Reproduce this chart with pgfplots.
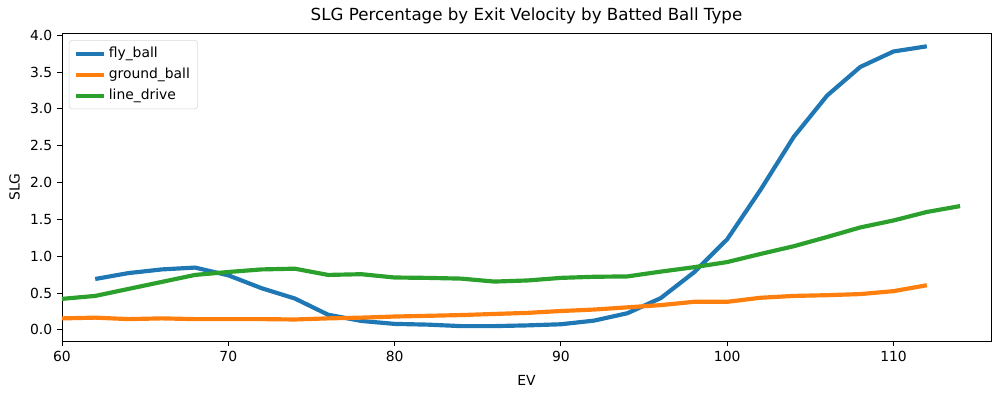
\documentclass[border=0pt]{standalone}
\usepackage{pgfplots}
\pgfplotsset{compat=1.18}
\usepackage{fontspec}
\setmainfont{DejaVu Sans}
\definecolor{c1}{HTML}{1F77B4}
\definecolor{c2}{HTML}{FF7F0E}
\definecolor{c3}{HTML}{2CA02C}
\begin{document}
\begin{tikzpicture}
\begin{axis}[
  scale only axis,
  width=668.9pt, height=221.8pt,
  xmin=60, xmax=115.86,
  ymin=-0.154, ymax=4.03,
  xtick={60,70,80,90,100,110},
  ytick={0,0.5,1,1.5,2,2.5,3,3.5,4},
  yticklabel style={/pgf/number format/.cd,fixed,fixed zerofill,precision=1},
  /pgf/number format/assume math mode=true,
  tick label style={font=\fontsize{10}{12}\selectfont},
  label style={font=\fontsize{10}{12}\selectfont},
  xtick pos=left, ytick pos=left,
  tick align=outside,
  major tick length=3.5pt,
  every tick/.style={black, line width=0.6pt},
  axis line style={line width=0.6pt},
  xlabel={EV}, ylabel={SLG},
  xlabel style={yshift=-3.5pt},
  ylabel style={yshift=0.5pt},
  title={SLG Percentage by Exit Velocity by Batted Ball Type},
  title style={font=\fontsize{12}{14}\selectfont, yshift=-3pt},
  legend style={at={(0.0075,0.977)}, anchor=north west, draw=black!15, rounded corners=2pt,
    font=\fontsize{10}{12}\selectfont, row sep=2pt, inner xsep=3.5pt, inner ysep=3pt},
  legend cell align=left,
  legend image code/.code={\draw[#1, line width=3pt] (0pt,0pt) -- (20pt,0pt);},
]
\addplot[c1, line width=3pt] coordinates {
(62,0.69)(64,0.77)(66,0.82)(68,0.845)(70,0.74)(72,0.565)(74,0.425)(76,0.205)(78,0.12)(80,0.08)(82,0.07)(84,0.05)(86,0.05)(88,0.06)(90,0.075)(92,0.125)(94,0.225)(96,0.43)(98,0.78)(100,1.23)(102,1.9)(104,2.62)(106,3.18)(108,3.57)(110,3.78)(112,3.85)
};
\addlegendentry{fly\_ball}
\addplot[c2, line width=3pt] coordinates {
(60,0.155)(62,0.165)(64,0.145)(66,0.155)(68,0.145)(70,0.145)(72,0.145)(74,0.14)(76,0.155)(78,0.165)(80,0.18)(82,0.19)(84,0.2)(86,0.215)(88,0.23)(90,0.255)(92,0.275)(94,0.305)(96,0.335)(98,0.38)(100,0.38)(102,0.435)(104,0.46)(106,0.47)(108,0.485)(110,0.525)(112,0.605)
};
\addlegendentry{ground\_ball}
\addplot[c3, line width=3pt] coordinates {
(60,0.42)(62,0.46)(64,0.555)(66,0.65)(68,0.745)(70,0.785)(72,0.82)(74,0.83)(76,0.745)(78,0.755)(80,0.71)(82,0.705)(84,0.695)(86,0.655)(88,0.67)(90,0.705)(92,0.72)(94,0.725)(96,0.79)(98,0.85)(100,0.92)(102,1.03)(104,1.135)(106,1.26)(108,1.39)(110,1.485)(112,1.6)(114,1.68)
};
\addlegendentry{line\_drive}
\coordinate (bl) at (rel axis cs:0,0);
\coordinate (tr) at (rel axis cs:1,1);
\end{axis}
\pgfresetboundingbox
\path[use as bounding box] ([shift={(-44.6pt,-37.4pt)}]bl) rectangle ([shift={(7.2pt,23.8pt)}]tr);
\end{tikzpicture}
\end{document}
